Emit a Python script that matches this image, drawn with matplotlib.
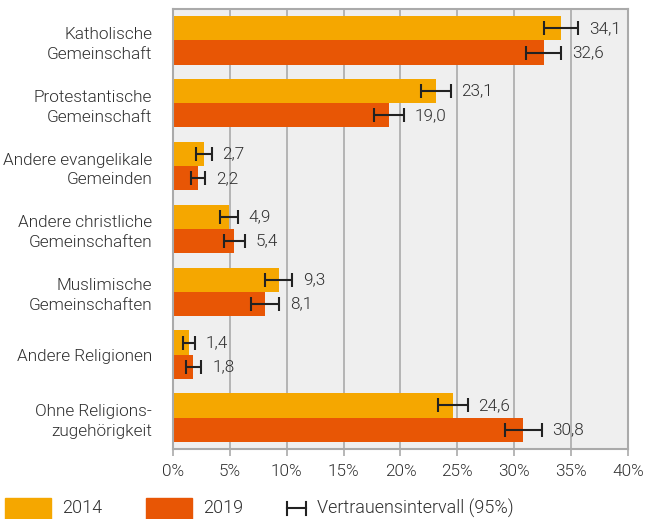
import matplotlib.pyplot as plt
import numpy as np
from matplotlib.patches import Rectangle
from matplotlib.lines import Line2D

plt.rcParams['font.family'] = ['Roboto', 'DejaVu Sans']
plt.rcParams['font.weight'] = 300

categories = ["Katholische\nGemeinschaft", "Protestantische\nGemeinschaft",
              "Andere evangelikale\nGemeinden", "Andere christliche\nGemeinschaften",
              "Muslimische\nGemeinschaften", "Andere Religionen",
              "Ohne Religions-\nzugehörigkeit"]
werte_2014 = [34.1, 23.1, 2.7, 4.9, 9.3, 1.4, 24.6]
werte_2019 = [32.6, 19.0, 2.2, 5.4, 8.1, 1.8, 30.8]
ki_2014 = [1.5, 1.3, 0.7, 0.8, 1.2, 0.55, 1.3]
ki_2019 = [1.55, 1.3, 0.6, 0.9, 1.25, 0.7, 1.6]

farbe_2014 = "#F5A700"
farbe_2019 = "#E85605"
fs = 12.3
tc = "#2e2e2e"

fig = plt.figure(figsize=(6.46, 5.19), dpi=100)
ax = fig.add_axes([0.2678, 0.1349, 0.7043, 0.8478])
ax.set_facecolor("#efefef")

y = np.arange(len(categories))
h = 0.385
ax.barh(y - h / 2, werte_2014, height=h, color=farbe_2014, zorder=2)
ax.barh(y + h / 2, werte_2019, height=h, color=farbe_2019, zorder=2)
ax.errorbar(werte_2014, y - h / 2, xerr=ki_2014, fmt="none", ecolor="#222222",
            elinewidth=1.5, capsize=5, capthick=1.5, zorder=3)
ax.errorbar(werte_2019, y + h / 2, xerr=ki_2019, fmt="none", ecolor="#222222",
            elinewidth=1.5, capsize=5, capthick=1.5, zorder=3)

for i in range(len(categories)):
    ax.text(werte_2014[i] + ki_2014[i] + 0.95, y[i] - h / 2, f"{werte_2014[i]:.1f}".replace(".", ","),
            va="center", ha="left", fontsize=fs, color=tc)
    ax.text(werte_2019[i] + ki_2019[i] + 0.95, y[i] + h / 2, f"{werte_2019[i]:.1f}".replace(".", ","),
            va="center", ha="left", fontsize=fs, color=tc)

ax.set_xlim(0, 40)
ax.set_ylim(6.5, -0.5)
ax.set_xticks(np.arange(0, 41, 5))
ax.set_xticklabels([f"{v}%" for v in range(0, 41, 5)], fontsize=fs, color=tc)
ax.set_yticks(y)
ax.set_yticklabels(categories, fontsize=fs, color=tc, linespacing=1.4)
ax.tick_params(axis="y", length=0, pad=15)
ax.tick_params(axis="x", length=5, color="#aaaaaa", width=1.2, pad=6)
ax.grid(axis="x", color="#aaaaaa", linewidth=1.2, zorder=0)
ax.set_axisbelow(True)
for s in ax.spines.values():
    s.set_color("#aaaaaa")
    s.set_linewidth(1.5)

# Legende
W, H = 646, 519
fig.patches.append(Rectangle((5 / W, 0), 46 / W, 21 / H, transform=fig.transFigure,
                             color=farbe_2014))
fig.patches.append(Rectangle((146 / W, 0), 46 / W, 21 / H, transform=fig.transFigure,
                             color=farbe_2019))
yl = 11 / H
fig.text(62 / W, yl, "2014", fontsize=13, va="center", color=tc)
fig.text(203 / W, yl, "2019", fontsize=13, va="center", color=tc)
fig.lines.append(Line2D([287 / W, 306 / W], [yl, yl], transform=fig.transFigure, color="#222222", lw=1.5))
fig.lines.append(Line2D([287 / W, 287 / W], [yl - 6.5 / H, yl + 6.5 / H], transform=fig.transFigure, color="#222222", lw=1.5))
fig.lines.append(Line2D([306 / W, 306 / W], [yl - 6.5 / H, yl + 6.5 / H], transform=fig.transFigure, color="#222222", lw=1.5))
fig.text(317 / W, yl, "Vertrauensintervall (95%)", fontsize=13, va="center", color=tc)

fig.savefig("out.png", dpi=100)
